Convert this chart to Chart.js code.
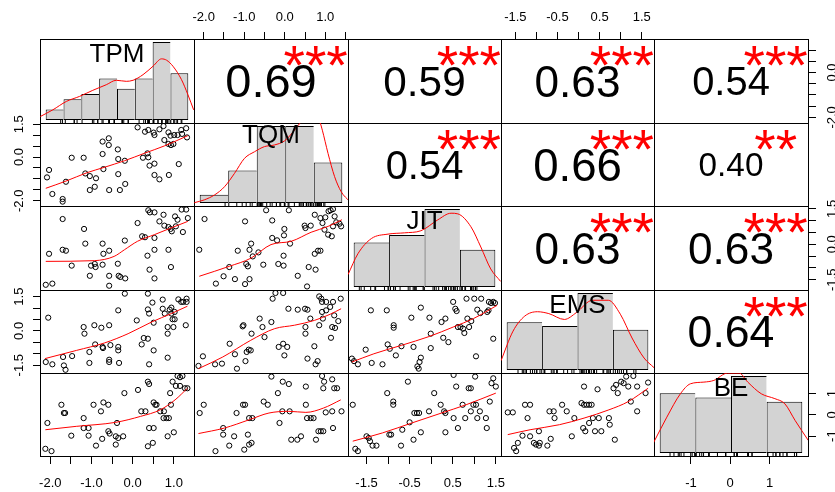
<!DOCTYPE html>
<html><head><meta charset="utf-8">
<script src="https://cdn.jsdelivr.net/npm/chart.js@4.4.1/dist/chart.umd.min.js"></script>
<style>
html,body{margin:0;padding:0;background:#fff;}
#wrap{position:relative;width:835px;height:492px;overflow:hidden;background:#fff;}
#wrap canvas{position:absolute;left:0;top:0;}
</style></head><body><div id="wrap"></div>
<script>
// ---------------- DATA ----------------
const varNames = ['TPM', 'TQM', 'JIT', 'EMS', 'BE'];
// axis limits of each variable (data range + 4%)
const axisMin = [-2.25, -2.24, -1.93, -1.84, -1.94];
const axisMax = [1.49, 1.56, 1.62, 1.79, 1.98];
// outer axis ticks and labelled ticks
const tickVals = [
  [-2, -1.5, -1, -0.5, 0, 0.5, 1],
  [-2, -1.5, -1, -0.5, 0, 0.5, 1, 1.5],
  [-1.5, -1, -0.5, 0, 0.5, 1, 1.5],
  [-1.5, -1, -0.5, 0, 0.5, 1, 1.5],
  [-1, 0, 1]
];
const xLabelVals = [[-2, -1, 0, 1], [-2, -1, 0, 1], [-1.5, -0.5, 0.5, 1.5], [-1.5, -0.5, 0.5, 1.5], [-1, 0, 1]];
const yLabelVals = [[-2, 0], [-2, 0, 1.5], [-1.5, 0, 1.5], [-1.5, 0, 1.5], [-1, 0, 1]];

// correlations (upper panels) in order (TPM,TQM),(TPM,JIT),(TPM,EMS),(TPM,BE),(TQM,JIT),(TQM,EMS),(TQM,BE),(JIT,EMS),(JIT,BE),(EMS,BE)
const corrValues = [0.69, 0.59, 0.63, 0.54, 0.54, 0.66, 0.40, 0.63, 0.63, 0.64];
const corrStars = ['***', '***', '***', '***', '***', '***', '**', '***', '***', '***'];

// histograms (diagonal)
const brTPM = [-2.5, -2, -1.5, -1, -0.5, 0, 0.5, 1, 1.5];
const ctTPM = [2, 4, 5, 8, 6, 8, 15, 9];
const brTQM = [-3, -2, -1, 0, 1, 2];
const ctTQM = [2, 8, 19, 19, 10];
const brJIT = [-2, -1, 0, 1, 2];
const ctJIT = [12, 14, 21, 10];
const brEMS = [-2, -1, 0, 1, 2];
const ctEMS = [13, 12, 21, 11];
const brBE = [-2, -1, 0, 1, 2];
const ctBE = [14, 13, 18, 12];

// density curves [value, density]
const dTPM = [[-2.65,0.023],[-2.30,0.068],[-1.92,0.125],[-1.55,0.159],[-1.18,0.200],[-0.80,0.238],[-0.52,0.268],[-0.24,0.261],[-0.05,0.268],[0.23,0.306],[0.51,0.363],[0.75,0.413],[0.89,0.404],[1.07,0.363],[1.31,0.272],[1.49,0.170],[1.65,0.068]];
const dTQM = [[-3.19,0.001],[-2.84,0.013],[-2.48,0.034],[-2.13,0.069],[-1.78,0.126],[-1.43,0.190],[-1.08,0.218],[-0.73,0.240],[-0.38,0.247],[-0.02,0.265],[0.33,0.311],[0.56,0.346],[0.90,0.375],[1.22,0.342],[1.30,0.310],[1.50,0.211],[1.73,0.112],[1.96,0.048],[2.26,0.006]];
const dJIT = [[-2.16,0.058],[-1.88,0.157],[-1.50,0.229],[-1.03,0.250],[-0.57,0.256],[-0.10,0.266],[0.37,0.317],[0.75,0.349],[0.94,0.346],[1.31,0.285],[1.59,0.189],[1.87,0.085],[2.15,0.026]];
const dEMS = [[-2.16,0.044],[-1.82,0.186],[-1.49,0.258],[-1.13,0.279],[-0.81,0.270],[-0.37,0.242],[-0.03,0.275],[0.42,0.334],[0.87,0.334],[1.21,0.267],[1.54,0.153],[1.88,0.057],[2.16,0.011]];
const dBE = [[-2.18,0.040],[-1.80,0.147],[-1.42,0.243],[-1.14,0.284],[-0.76,0.291],[-0.48,0.298],[-0.10,0.328],[0.23,0.328],[0.47,0.291],[0.85,0.243],[1.23,0.223],[1.51,0.202],[1.80,0.133],[2.17,0.051]];

// scatter panels [x, y]
const pTPM_TQM = [[-2.03,-0.59],[-2.08,-0.93],[-1.95,-1.69],[-1.70,-1.92],[-1.70,-2.04],[-1.62,-1.13],[-1.48,-0.03],[-1.19,-0.03],[-1.15,-0.75],[-1.04,-0.87],[-1.04,-1.51],[-0.92,-1.36],[-0.89,-0.97],[-0.73,0.71],[-0.58,0.86],[-0.58,0.55],[-0.73,0.14],[-0.71,-0.55],[-0.57,-1.51],[-0.36,0.35],[-0.35,-0.09],[-0.35,-0.78],[-0.31,-1.51],[-0.18,-1.23],[-0.19,-0.17],[0.12,1.36],[0.30,1.16],[0.38,1.24],[0.51,1.12],[0.53,1.01],[0.36,0.17],[0.38,-0.01],[0.25,-0.03],[0.41,-0.39],[0.53,-0.30],[0.53,-0.82],[0.65,-1.02],[0.75,1.42],[0.77,0.78],[0.87,1.13],[0.92,0.98],[1.01,1.01],[1.09,1.01],[0.87,0.60],[0.93,0.55],[0.99,0.60],[0.88,-0.82],[1.12,-0.32],[1.18,1.24],[1.30,1.32],[1.32,0.90],[1.20,1.06],[0.65,1.27]];
const pTPM_JIT = [[-2.03,-0.40],[-2.11,-1.71],[-1.95,-1.66],[-1.70,1.07],[-1.70,-0.23],[-1.62,-0.27],[-1.48,-0.90],[-1.18,0.65],[-1.15,0.03],[-1.01,-0.90],[-0.92,-0.83],[-0.90,-0.96],[-1.04,-1.33],[-0.73,0.03],[-0.71,-0.40],[-0.73,-0.86],[-0.57,-0.27],[-0.57,-1.33],[-0.57,-1.75],[-0.36,-0.82],[-0.34,-1.33],[-0.30,-1.38],[-0.19,0.16],[-0.18,-1.44],[0.12,0.90],[0.23,0.34],[0.30,0.30],[0.38,1.44],[0.42,1.35],[0.53,1.35],[0.53,0.27],[0.53,-0.23],[0.36,-0.48],[0.41,-1.07],[0.53,-1.44],[0.65,0.97],[0.75,1.25],[0.77,0.79],[0.87,0.73],[0.92,0.65],[0.95,0.55],[0.87,-0.23],[0.93,-0.96],[1.03,1.18],[1.09,1.04],[1.19,1.47],[1.30,1.47],[1.34,1.11],[1.22,0.52],[1.05,0.76]];
const pTQM_JIT = [[-2.11,-0.23],[-1.98,1.07],[-1.70,-1.66],[-1.51,-1.35],[-1.37,-0.96],[-1.23,-1.47],[-1.16,-0.27],[-0.98,0.97],[-0.98,-1.68],[-0.95,-0.83],[-0.91,-0.93],[-0.87,-1.47],[-0.83,0.03],[-0.87,-0.23],[-0.79,-0.51],[-0.65,-0.34],[-0.53,-0.86],[-0.46,1.44],[-0.31,1.01],[-0.31,0.27],[-0.19,0.17],[-0.16,-0.83],[-0.03,-0.90],[-0.03,-0.48],[-0.01,0.65],[-0.02,0.38],[0.10,1.44],[0.13,0.03],[0.32,-1.33],[0.49,0.79],[0.51,0.69],[0.55,-1.78],[0.59,-0.96],[0.64,0.79],[0.74,-0.40],[0.76,-1.07],[0.74,1.25],[0.82,-0.27],[0.88,-0.27],[0.88,1.11],[0.93,0.90],[0.98,0.62],[1.00,1.14],[1.08,1.40],[1.13,1.44],[1.19,1.49],[1.23,1.18],[1.19,0.76],[1.07,0.41],[1.16,0.34],[1.35,0.87],[1.39,0.76],[1.27,0.93]];
const pTPM_EMS = [[-2.05,0.58],[-2.11,-1.36],[-1.95,-1.46],[-1.69,-1.14],[-1.67,-1.51],[-1.63,-1.70],[-1.47,-1.10],[-1.19,0.17],[-1.17,-0.12],[-1.05,-0.92],[-1.05,-1.40],[-0.93,0.25],[-0.91,-0.59],[-0.76,0.14],[-0.73,-0.70],[-0.72,-0.75],[-0.57,0.25],[-0.57,-1.26],[-0.57,-1.36],[-0.54,-0.62],[-0.35,0.90],[-0.35,-0.70],[-0.35,-0.85],[-0.33,-1.40],[-0.19,1.63],[0.10,0.46],[0.22,-0.59],[0.27,-0.31],[0.37,-0.34],[0.37,1.63],[0.37,0.94],[0.40,0.76],[0.40,-1.46],[0.48,1.24],[0.51,0.36],[0.51,-0.85],[0.73,1.37],[0.73,0.97],[0.85,-1.17],[0.85,0.17],[0.99,0.17],[0.85,-0.12],[0.90,0.93],[0.94,1.02],[0.94,0.76],[1.02,0.83],[0.97,0.51],[1.02,0.51],[1.11,1.38],[1.18,1.27],[1.31,1.41],[1.23,1.27],[1.31,1.27],[1.29,0.25],[0.78,0.76]];
const pTQM_EMS = [[-2.13,-1.53],[-2.02,-1.11],[-1.72,-1.46],[-1.55,-1.43],[-1.36,-0.56],[-1.23,-1.02],[-1.18,-1.65],[-1.04,0.20],[-1.02,0.25],[-0.97,-1.32],[-0.94,-0.92],[-0.89,-0.82],[-0.84,-0.85],[-0.82,-0.12],[-0.62,0.54],[-0.55,0.17],[-0.50,-0.27],[-0.33,0.39],[-0.30,1.41],[-0.23,1.66],[-0.04,1.66],[-0.15,-0.70],[-0.04,-0.56],[-0.01,-1.07],[0.06,-0.70],[0.09,0.97],[0.32,0.93],[0.50,0.97],[0.56,0.93],[0.51,0.17],[0.51,-0.12],[0.56,-1.21],[0.73,-0.67],[0.76,-1.46],[0.63,0.54],[0.85,1.51],[0.90,1.41],[0.92,0.83],[0.94,0.54],[0.85,0.25],[0.92,1.27],[1.02,1.27],[1.02,0.90],[1.12,1.05],[1.19,1.27],[1.24,0.13],[1.14,-0.30],[1.17,0.17],[1.32,0.43],[1.38,1.41],[1.22,0.68],[0.81,-1.32]];
const pJIT_EMS = [[-1.84,-1.21],[-1.79,-1.32],[-1.70,-1.46],[-1.52,-0.82],[-1.40,0.90],[-1.38,-1.40],[-1.13,-1.46],[-1.03,0.90],[-1.01,-0.59],[-0.96,-0.78],[-0.87,0.25],[-0.87,0.14],[-0.82,-1.07],[-0.69,-0.67],[-0.46,0.58],[-0.41,-0.70],[-0.27,-1.36],[-0.24,-1.17],[-0.32,-1.55],[-0.29,-1.65],[-0.24,1.02],[-0.04,0.58],[-0.01,-0.75],[-0.01,-0.12],[0.24,0.39],[0.28,-0.30],[0.33,0.54],[0.40,-0.49],[0.51,1.27],[0.56,0.97],[0.59,0.87],[0.62,0.17],[0.68,0.17],[0.74,0.10],[0.77,-0.09],[0.82,1.41],[0.84,0.54],[0.88,0.17],[0.93,0.43],[1.00,1.41],[1.04,-1.11],[1.07,0.93],[1.14,0.78],[1.16,1.41],[1.34,1.27],[1.39,1.22],[1.44,1.27],[1.48,1.22],[1.30,0.83],[1.33,0.90],[1.44,-0.34]];
const pTPM_BE = [[-2.12,-1.60],[-1.97,-1.71],[-2.07,-0.38],[-1.73,0.48],[-1.67,0.09],[-1.64,0.09],[-1.49,-0.98],[-1.19,-0.15],[-1.19,-0.62],[-1.07,-0.62],[-1.07,-0.98],[-0.95,0.48],[-0.89,-1.45],[-0.77,0.17],[-0.74,-1.13],[-0.71,0.59],[-0.59,0.48],[-0.59,-0.77],[-0.56,-0.88],[-0.41,-1.01],[-0.35,-1.09],[-0.41,-1.40],[-0.38,-0.38],[-0.23,-1.01],[-0.20,1.03],[0.13,1.18],[0.21,0.17],[0.31,0.17],[0.37,1.57],[0.40,1.46],[0.40,-0.62],[0.51,-0.62],[0.37,-1.48],[0.49,-1.32],[0.51,0.59],[0.55,0.48],[0.58,0.48],[0.67,0.17],[0.75,-0.15],[0.82,-0.15],[0.88,-0.15],[0.85,-1.01],[0.91,1.03],[1.00,-0.82],[0.97,1.57],[1.09,1.84],[1.15,1.78],[1.21,1.84],[1.05,1.37],[1.15,1.37],[1.27,1.26],[1.33,1.26],[0.93,0.48],[0.76,0.17]];
const pTQM_BE = [[-2.10,0.09],[-2.00,0.48],[-1.71,-1.71],[-1.52,-0.62],[-1.52,-0.93],[-1.37,-1.45],[-1.25,-1.01],[-1.19,0.09],[-1.03,0.48],[-0.98,0.48],[-1.00,-1.64],[-0.91,-0.93],[-0.88,-1.40],[-0.82,-1.32],[-0.88,-0.15],[-0.80,-0.15],[-0.52,0.63],[-0.42,0.48],[-0.33,1.81],[-0.17,1.03],[-0.13,-0.38],[-0.06,0.17],[0.12,0.17],[-0.05,1.57],[0.10,1.46],[0.16,-1.17],[0.31,-1.17],[0.40,-1.01],[0.52,0.48],[0.52,1.34],[0.55,-0.15],[0.64,-0.15],[0.71,-0.15],[0.77,-1.17],[0.83,-0.77],[0.89,-0.77],[0.95,-0.77],[0.92,1.84],[0.95,1.26],[0.97,1.57],[1.01,0.12],[1.17,1.68],[1.22,1.26],[1.29,1.26],[1.17,0.17],[1.19,-0.62],[1.40,0.17]];
const pJIT_BE = [[-1.82,0.48],[-1.76,-1.60],[-1.70,-1.71],[-1.50,-1.01],[-1.45,-1.09],[-1.42,-1.24],[-1.36,-1.45],[-1.27,-1.45],[-1.02,1.03],[-0.97,-0.93],[-0.93,-0.93],[-0.88,0.63],[-0.88,0.48],[-0.70,-1.45],[-0.67,-0.70],[-0.54,1.57],[-0.50,-0.35],[-0.41,-1.17],[-0.39,0.09],[-0.33,0.09],[-0.28,0.09],[-0.24,-0.82],[-0.05,0.17],[0.07,1.03],[0.22,0.48],[0.30,0.17],[0.33,0.09],[0.33,-0.82],[0.52,1.89],[0.52,-0.15],[0.58,1.34],[0.62,-0.62],[0.73,0.48],[0.79,-0.15],[0.87,1.26],[0.92,1.26],[0.98,0.48],[1.04,0.48],[1.02,1.81],[1.07,-0.15],[1.13,0.17],[1.27,-0.15],[1.29,-0.62],[1.36,0.63],[1.40,1.50],[1.44,1.73],[1.50,1.34],[0.92,0.17]];
const pEMS_BE = [[-1.68,0.12],[-1.56,0.12],[-1.53,-1.56],[-1.48,-1.71],[-1.44,-1.32],[-1.33,-0.98],[-1.27,0.48],[-1.15,0.48],[-1.21,-0.15],[-1.15,-1.01],[-1.06,-1.32],[-1.01,-1.40],[-0.94,-1.45],[-0.92,-1.32],[-0.94,-0.77],[-0.74,-1.45],[-0.69,0.17],[-0.59,0.17],[-0.66,-1.13],[-0.57,-0.15],[-0.39,0.48],[-0.28,0.17],[-0.16,-1.01],[-0.10,-0.15],[0.07,0.56],[0.13,0.48],[0.19,0.48],[0.25,0.48],[0.31,0.48],[0.11,-0.62],[0.16,-0.77],[0.13,1.34],[0.25,-0.38],[0.34,-0.15],[0.39,-0.77],[0.45,1.21],[0.48,-0.15],[0.54,-0.77],[0.72,-0.15],[0.74,-0.46],[0.83,1.26],[0.89,1.42],[0.93,1.03],[1.01,1.57],[1.07,1.50],[1.13,1.81],[1.30,1.84],[1.18,1.34],[1.39,1.34],[1.24,0.63],[0.86,-1.17],[1.39,0.17],[1.59,1.03],[1.65,1.53]];

// smoothed (loess) lines [x, y]
const lTPM_TQM = [[-2.11,-1.43],[-1.62,-1.10],[-1.10,-0.71],[-0.69,-0.47],[-0.20,-0.17],[0.28,0.17],[0.77,0.51],[1.34,0.98]];
const lTPM_JIT = [[-2.11,-0.72],[-0.93,-0.69],[-0.45,-0.51],[-0.20,-0.23],[0.12,0.13],[0.53,0.41],[0.93,0.69],[1.34,0.97]];
const lTQM_JIT = [[-2.11,-1.35],[-1.37,-0.93],[-0.83,-0.58],[-0.34,-0.01],[0.16,0.13],[0.65,0.51],[1.07,0.76],[1.41,1.04]];
const lTPM_EMS = [[-2.13,-1.21],[-1.36,-0.85],[-0.69,-0.53],[-0.11,-0.12],[0.46,0.39],[0.94,0.76],[1.33,1.08]];
const lTQM_EMS = [[-2.13,-1.65],[-1.53,-1.14],[-0.84,-0.41],[-0.25,0.10],[0.24,0.25],[0.73,0.46],[1.12,0.73],[1.39,0.97]];
const lJIT_EMS = [[-1.84,-1.36],[-1.33,-1.00],[-0.69,-0.63],[-0.04,-0.24],[0.51,0.17],[0.98,0.54],[1.53,1.12]];
const lTPM_BE = [[-2.12,-0.70],[-1.37,-0.54],[-0.41,-0.35],[0.19,-0.07],[0.67,0.24],[1.03,0.71],[1.33,1.26]];
const lTQM_BE = [[-2.13,-0.88],[-1.49,-0.62],[-0.88,-0.23],[-0.39,0.09],[0.10,0.17],[0.52,0.12],[0.95,0.32],[1.38,0.71]];
const lJIT_BE = [[-1.82,-1.24],[-1.13,-0.85],[-0.45,-0.38],[0.24,0.09],[0.81,0.48],[1.50,1.03]];
const lEMS_BE = [[-1.68,-0.93],[-1.15,-0.70],[-0.45,-0.46],[0.13,-0.15],[0.72,0.24],[1.18,0.63],[1.65,1.26]];

// ---------------- LAYOUT ----------------
const W = 835, H = 492;
const colX = [40, 194, 348, 501, 654, 808];
const rowY = [39, 123, 206, 290, 373, 456];
const FONT = '"Liberation Sans", Arial, Helvetica, sans-serif';
const RED = '#ff0000';

const histBreaks = [brTPM, brTQM, brJIT, brEMS, brBE];
const histCounts = [ctTPM, ctTQM, ctJIT, ctEMS, ctBE];
const densCurves = [dTPM, dTQM, dJIT, dEMS, dBE];
const rugValues = [pTPM_TQM.map(p => p[0]), pTQM_JIT.map(p => p[0]), pJIT_EMS.map(p => p[0]), pEMS_BE.map(p => p[0]), pTPM_BE.map(p => p[1])];
const scatterSets = {'1,0': pTPM_TQM, '2,0': pTPM_JIT, '2,1': pTQM_JIT, '3,0': pTPM_EMS, '3,1': pTQM_EMS, '3,2': pJIT_EMS, '4,0': pTPM_BE, '4,1': pTQM_BE, '4,2': pJIT_BE, '4,3': pEMS_BE};
const smoothSets = {'1,0': lTPM_TQM, '2,0': lTPM_JIT, '2,1': lTQM_JIT, '3,0': lTPM_EMS, '3,1': lTQM_EMS, '3,2': lJIT_EMS, '4,0': lTPM_BE, '4,1': lTQM_BE, '4,2': lJIT_BE, '4,3': lEMS_BE};
const corrOrder = ['0,1', '0,2', '0,3', '0,4', '1,2', '1,3', '1,4', '2,3', '2,4', '3,4'];
const outerAxes = [
  {i: 0, j: 1, side: 'top'}, {i: 0, j: 3, side: 'top'},
  {i: 4, j: 0, side: 'bottom'}, {i: 4, j: 2, side: 'bottom'}, {i: 4, j: 4, side: 'bottom'},
  {i: 1, j: 0, side: 'left'}, {i: 3, j: 0, side: 'left'},
  {i: 0, j: 4, side: 'right'}, {i: 2, j: 4, side: 'right'}, {i: 4, j: 4, side: 'right'}
];

function fmt(v, k) { return k === 4 ? String(v) : v.toFixed(1); }

function inkText(ctx, text, cx, cy, font, color) {
  ctx.font = font; ctx.fillStyle = color; ctx.textAlign = 'center'; ctx.textBaseline = 'alphabetic';
  const m = ctx.measureText(text);
  ctx.fillText(text, cx, cy + (m.actualBoundingBoxAscent - m.actualBoundingBoxDescent) / 2);
}

function drawAxis(chart, a) {
  const ctx = chart.ctx, ca = chart.chartArea;
  const horiz = a.side === 'top' || a.side === 'bottom';
  const sc = horiz ? chart.scales.xv : chart.scales.yv;
  const k = horiz ? a.j : a.i;
  const TL = 7.5;
  ctx.save();
  ctx.strokeStyle = '#000'; ctx.fillStyle = '#000'; ctx.lineWidth = 1;
  ctx.beginPath();
  tickVals[k].forEach(v => {
    const p = Math.floor(sc.getPixelForValue(v)) + 0.5;
    if (a.side === 'top') { ctx.moveTo(p, ca.top + 0.5); ctx.lineTo(p, ca.top + 0.5 - TL); }
    if (a.side === 'bottom') { ctx.moveTo(p, ca.bottom + 0.5); ctx.lineTo(p, ca.bottom + 0.5 + TL); }
    if (a.side === 'left') { ctx.moveTo(ca.left + 0.5, p); ctx.lineTo(ca.left + 0.5 - TL, p); }
    if (a.side === 'right') { ctx.moveTo(ca.right + 0.5, p); ctx.lineTo(ca.right + 0.5 + TL, p); }
  });
  ctx.stroke();
  ctx.font = '13px ' + FONT; ctx.textAlign = 'center'; ctx.textBaseline = 'alphabetic';
  const labs = horiz ? xLabelVals[k] : yLabelVals[k];
  labs.forEach(v => {
    const p = sc.getPixelForValue(v);
    const t = fmt(v, k);
    if (a.side === 'top') ctx.fillText(t, p, ca.top - 18.3);
    else if (a.side === 'bottom') ctx.fillText(t, p, ca.bottom + 30.5);
    else {
      const bx = a.side === 'left' ? ca.left - 17.5 : ca.right + 27.8;
      ctx.save(); ctx.translate(bx, p); ctx.rotate(-Math.PI / 2); ctx.fillText(t, 0, 0); ctx.restore();
    }
  });
  ctx.restore();
}

const panelPlugin = {
  id: 'panelDeco',
  beforeDatasetsDraw(chart) {
    const ca = chart.chartArea, ctx = chart.ctx;
    ctx.save(); ctx.strokeStyle = '#000'; ctx.lineWidth = 1;
    ctx.strokeRect(Math.round(ca.left) + 0.5, Math.round(ca.top) + 0.5, Math.round(ca.right - ca.left), Math.round(ca.bottom - ca.top));
    ctx.restore();
  },
  afterDatasetsDraw(chart, args, o) {
    const ctx = chart.ctx, ca = chart.chartArea;
    const w = ca.right - ca.left, h = ca.bottom - ca.top;
    ctx.save();
    if (o.label) inkText(ctx, o.label, ca.left + 0.5 * w, ca.bottom - 0.833 * h, '26px ' + FONT, '#000');
    if (o.corr != null) {
      inkText(ctx, o.corr.toFixed(2), ca.left + 0.5 * w, ca.top + 0.5 * h, (47.5 * (Math.abs(o.corr) + 0.3)).toFixed(1) + 'px ' + FONT, '#000');
      inkText(ctx, o.stars, ca.left + 0.79 * w, ca.bottom - 0.8 * h, '55px ' + FONT, RED);
    }
    ctx.restore();
    (o.axes || []).forEach(a => drawAxis(chart, a));
  }
};

const wrap = document.getElementById('wrap');
for (let i = 0; i < 5; i++) {
  for (let j = 0; j < 5; j++) {
    const cv = document.createElement('canvas');
    cv.width = W; cv.height = H; cv.style.width = W + 'px'; cv.style.height = H + 'px';
    wrap.appendChild(cv);
    const scales = {
      xv: {type: 'linear', axis: 'x', position: 'bottom', display: false, min: axisMin[j], max: axisMax[j]},
      yv: {type: 'linear', axis: 'y', position: 'left', display: false, min: axisMin[i], max: axisMax[i]}
    };
    const deco = {axes: outerAxes.filter(a => a.i === i && a.j === j)};
    let datasets = [];
    const key = i + ',' + j;
    if (i > j) {
      datasets = [
        {type: 'line', data: smoothSets[key].map(p => ({x: p[0], y: p[1]})), xAxisID: 'xv', yAxisID: 'yv',
         borderColor: RED, borderWidth: 1, pointRadius: 0, fill: false, cubicInterpolationMode: 'monotone', clip: 0},
        {type: 'scatter', data: scatterSets[key].map(p => ({x: p[0], y: p[1]})), xAxisID: 'xv', yAxisID: 'yv',
         pointStyle: 'circle', pointRadius: 2.6, borderWidth: 1, borderColor: '#000', backgroundColor: 'rgba(0,0,0,0)', clip: 0}
      ];
    } else if (i === j) {
      const br = histBreaks[i], ct = histCounts[i];
      const N = ct.reduce((a, b) => a + b, 0);
      const bars = ct.map((c, k) => ({x: (br[k] + br[k + 1]) / 2, y: c / (N * (br[k + 1] - br[k]))}));
      const Hm = Math.max(...bars.map(b => b.y));
      const span = br[br.length - 1] - br[0];
      scales.xh = {type: 'linear', axis: 'x', position: 'bottom', display: false, offset: false,
        min: br[0] - 0.04 * span, max: br[br.length - 1] + 0.04 * span,
        afterBuildTicks: s => { s.ticks = br.map(v => ({value: v})); }};
      scales.yh = {type: 'linear', axis: 'y', position: 'left', display: false, min: -0.04 * Hm, max: 1.04 * Hm};
      const last = bars.length - 1;
      datasets = [
        {type: 'line', data: densCurves[i].map(p => ({x: p[0], y: p[1]})), xAxisID: 'xh', yAxisID: 'yh',
         borderColor: RED, borderWidth: 1, pointRadius: 0, fill: false, cubicInterpolationMode: 'monotone', clip: 0},
        {type: 'scatter', data: rugValues[i].map(v => ({x: v, y: -0.04 * Hm})), xAxisID: 'xh', yAxisID: 'yh',
         pointStyle: 'line', rotation: 90, pointRadius: 3, borderWidth: 1, borderColor: '#000', clip: 0},
        {type: 'bar', data: bars, xAxisID: 'xh', yAxisID: 'yh', backgroundColor: '#d3d3d3', borderColor: '#000',
         borderWidth: c => c.dataIndex === last ? 1 : {top: 1, left: 1, bottom: 1, right: 0},
         borderSkipped: false, inflateAmount: 0, barPercentage: 1, categoryPercentage: 1, clip: 0}
      ];
      deco.label = varNames[i];
    } else {
      const idx = corrOrder.indexOf(key);
      deco.corr = corrValues[idx];
      deco.stars = corrStars[idx];
    }
    new Chart(cv, {
      type: 'scatter',
      data: {datasets},
      options: {
        responsive: false, animation: false, devicePixelRatio: 1, events: [],
        layout: {padding: {left: colX[j], right: W - colX[j + 1], top: rowY[i], bottom: H - rowY[i + 1]}},
        plugins: {legend: {display: false}, tooltip: {enabled: false}, title: {display: false}, panelDeco: deco},
        scales
      },
      plugins: [panelPlugin]
    });
  }
}
</script></body></html>
